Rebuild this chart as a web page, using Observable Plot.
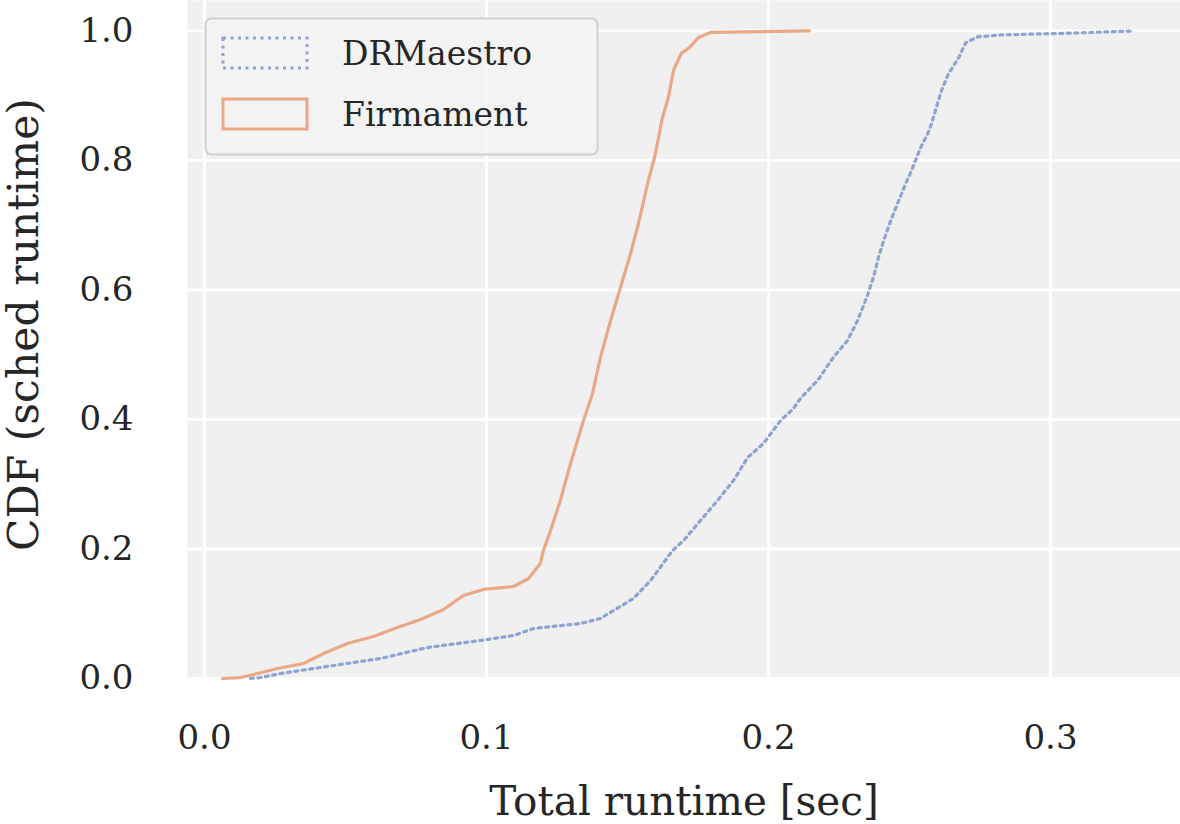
<!DOCTYPE html>
<html>
<head>
<meta charset="utf-8">
<script src="https://cdn.jsdelivr.net/npm/d3@7"></script>
<script src="https://cdn.jsdelivr.net/npm/@observablehq/plot@0.6"></script>
<style>
  html, body { margin: 0; padding: 0; background: #ffffff; }
  #chart { width: 1180px; height: 824px; }
</style>
</head>
<body>
<div id="chart"></div>
<script>
// Series names
const seriesNames = ["DRMaestro", "Firmament"];

// Firmament CDF (x = runtime sec, y = CDF)
const firmamentX = [0.0064, 0.0128, 0.0188, 0.0259, 0.0351, 0.0422, 0.0507, 0.0599, 0.0684, 0.0766, 0.0848, 0.0918, 0.0989, 0.1096, 0.1149, 0.1191, 0.1202, 0.1227, 0.1262, 0.1298, 0.1344, 0.1376, 0.1404, 0.1440, 0.1475, 0.1511, 0.1539, 0.1574, 0.1596, 0.1624, 0.1645, 0.1663, 0.1691, 0.1720, 0.1752, 0.1794, 0.2145];
const firmamentY = [0.0, 0.0015, 0.0077, 0.0154, 0.0232, 0.0386, 0.0541, 0.0649, 0.0788, 0.0911, 0.1066, 0.1282, 0.1375, 0.1421, 0.1544, 0.1776, 0.1977, 0.2286, 0.2749, 0.3320, 0.3985, 0.4402, 0.4958, 0.5529, 0.6039, 0.6564, 0.7027, 0.7691, 0.8046, 0.8664, 0.8973, 0.9390, 0.9653, 0.9745, 0.9899, 0.9977, 1.0];

// DRMaestro CDF
const drmaestroX = [0.0163, 0.0199, 0.0270, 0.0411, 0.0624, 0.0791, 0.0979, 0.1096, 0.1167, 0.1333, 0.1404, 0.1521, 0.1582, 0.1660, 0.1699, 0.1759, 0.1819, 0.1876, 0.1926, 0.1982, 0.2043, 0.2089, 0.2113, 0.2174, 0.2230, 0.2280, 0.2316, 0.2351, 0.2372, 0.2390, 0.2408, 0.2433, 0.2457, 0.2486, 0.2511, 0.2539, 0.2564, 0.2578, 0.2599, 0.2613, 0.2638, 0.2674, 0.2699, 0.2741, 0.2823, 0.2957, 0.3092, 0.3294];
const drmaestroY = [0.0, 0.0015, 0.0077, 0.0170, 0.0309, 0.0479, 0.0587, 0.0664, 0.0772, 0.0849, 0.0927, 0.1236, 0.1514, 0.1977, 0.2131, 0.2440, 0.2749, 0.3058, 0.3413, 0.3629, 0.3985, 0.4170, 0.4324, 0.4602, 0.4958, 0.5220, 0.5529, 0.5915, 0.6193, 0.6502, 0.6757, 0.7066, 0.7328, 0.7637, 0.7884, 0.8193, 0.8409, 0.8564, 0.8873, 0.9073, 0.9336, 0.9583, 0.9815, 0.9907, 0.9938, 0.9954, 0.9969, 1.0];

// Tick labels
const xTicks = [0.0, 0.1, 0.2, 0.3];
const yTicks = [0.0, 0.2, 0.4, 0.6, 0.8, 1.0];
const xLabel = ["Total runtime [sec]"];
const yLabel = ["CDF (sched runtime)"];

const colors = { DRMaestro: "#8ea3cf", Firmament: "#e9a886" };

const firmament = firmamentX.map((x, i) => ({ x, y: firmamentY[i] }));
const drmaestro = drmaestroX.map((x, i) => ({ x, y: drmaestroY[i] }));

const font = "DejaVu Serif";
const textColor = "#262626";

const chart = Plot.plot({
  width: 1180,
  height: 824,
  marginLeft: 187,
  marginRight: 0,
  marginTop: 0,
  marginBottom: 146,
  style: { fontFamily: font, background: "#ffffff", color: textColor },
  x: { domain: [-0.00603, 0.3461] },
  y: { domain: [0, 1.047] },
  marks: [
    Plot.frame({ fill: "#f0f0f0", stroke: null }),
    Plot.gridX(xTicks, { stroke: "#ffffff", strokeOpacity: 1, strokeWidth: 2.8 }),
    Plot.gridY(yTicks, { stroke: "#ffffff", strokeOpacity: 1, strokeWidth: 2.8 }),
    Plot.axisX(xTicks, { tickSize: 0, tickPadding: 46, fontSize: 34, tickFormat: d3.format(".1f"), label: null, fill: textColor }),
    Plot.axisY(yTicks, { tickSize: 0, tickPadding: 54, fontSize: 34, tickFormat: d3.format(".1f"), label: null, fill: textColor }),
    Plot.line(drmaestro, { x: "x", y: "y", stroke: colors.DRMaestro, strokeWidth: 3.2, strokeDasharray: "3,4.5" }),
    Plot.line(firmament, { x: "x", y: "y", stroke: colors.Firmament, strokeWidth: 3.2 }),
    Plot.text(xLabel, { frameAnchor: "bottom", dy: 136, fontSize: 40.5, fill: textColor, text: d => d }),
    Plot.text(yLabel, { frameAnchor: "left", dx: -163, dy: -15, rotate: -90, textAnchor: "middle", fontSize: 42.5, fill: textColor, text: d => d })
  ]
});

document.getElementById("chart").appendChild(chart);

// Legend drawn inside the plot's SVG
const svg = d3.select(chart);
const lg = svg.append("g").attr("font-family", font).attr("text-anchor", "start");
lg.append("rect")
  .attr("x", 205.5).attr("y", 18.5).attr("width", 392).attr("height", 136)
  .attr("rx", 6).attr("fill", "#f3f3f3").attr("fill-opacity", 0.85)
  .attr("stroke", "#cfcfcf").attr("stroke-width", 2);
seriesNames.forEach((name, i) => {
  const y0 = 38 + i * 61;
  lg.append("rect")
    .attr("x", 223).attr("y", y0).attr("width", 84).attr("height", 30)
    .attr("fill", "none").attr("stroke", colors[name]).attr("stroke-width", 3)
    .attr("stroke-dasharray", name === "DRMaestro" ? "3,4.5" : null);
  lg.append("text")
    .attr("x", 342).attr("y", y0 + 27)
    .attr("font-size", 33).attr("fill", textColor)
    .attr("text-anchor", "start")
    .text(name);
});
</script>
</body>
</html>
